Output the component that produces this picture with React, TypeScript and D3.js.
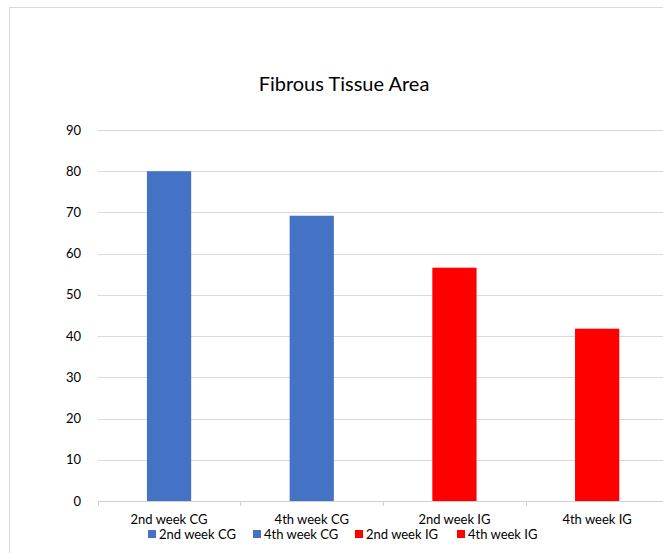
import React from "react";
import * as d3 from "d3";

const categories = ["2nd week CG", "4th week CG", "2nd week IG", "4th week IG"];
const values = [80, 69.2, 56.6, 41.8];
const colors = ["#4472C4", "#4472C4", "#FF0000", "#FF0000"];
const yTicks = [0, 10, 20, 30, 40, 50, 60, 70, 80, 90];
const title = "Fibrous Tissue Area";

const W = 663;
const H = 553;
const FONT = "Lato, 'Open Sans', sans-serif";

export default function App() {
  const x = d3.scaleBand<string>().domain(categories).range([97.7, 668.5]).paddingInner(0).paddingOuter(0);
  const y = d3.scaleLinear().domain([0, 90]).range([501, 130]);
  const bw = x.bandwidth() * 0.31;
  const legendX = [148, 253, 355, 457];
  return (
    <div style={{ position: "fixed", left: 0, top: 0 }}>
      <svg width={W} height={H} style={{ display: "block", background: "#fff" }}>
        <rect x={9.5} y={7.5} width={700} height={600} fill="#fff" stroke="#d9d9d9" strokeWidth={1} />
        <text x={344} y={91} textAnchor="middle" fontFamily={FONT} fontSize={20} fill="#000">{title}</text>
        {yTicks.map((t) => (
          <g key={t}>
            <line x1={97.7} x2={668} y1={Math.round(y(t)) + 0.5} y2={Math.round(y(t)) + 0.5} stroke={t === 0 ? "#d0d0d0" : "#d9d9d9"} strokeWidth={1} />
            <text x={81} y={y(t) + 4.5} textAnchor="end" fontFamily={FONT} fontSize={13} fill="#000">{t}</text>
          </g>
        ))}
        {categories.map((c, i) => (
          <g key={c}>
            <line x1={Math.round(x(c)!) + 0.5} x2={Math.round(x(c)!) + 0.5} y1={501} y2={506} stroke="#d0d0d0" />
            <rect x={x(c)! + (x.bandwidth() - bw) / 2} y={y(values[i])} width={bw} height={y(0) - y(values[i])} fill={colors[i]} />
            <text x={x(c)! + x.bandwidth() / 2} y={523.5} textAnchor="middle" fontFamily={FONT} fontSize={13} fill="#000">{c}</text>
          </g>
        ))}
        {categories.map((c, i) => (
          <g key={"lg" + c}>
            <rect x={legendX[i]} y={530} width={8} height={8} fill={colors[i]} />
            <text x={legendX[i] + 11} y={538.5} fontFamily={FONT} fontSize={13} fill="#000">{c}</text>
          </g>
        ))}
      </svg>
    </div>
  );
}
